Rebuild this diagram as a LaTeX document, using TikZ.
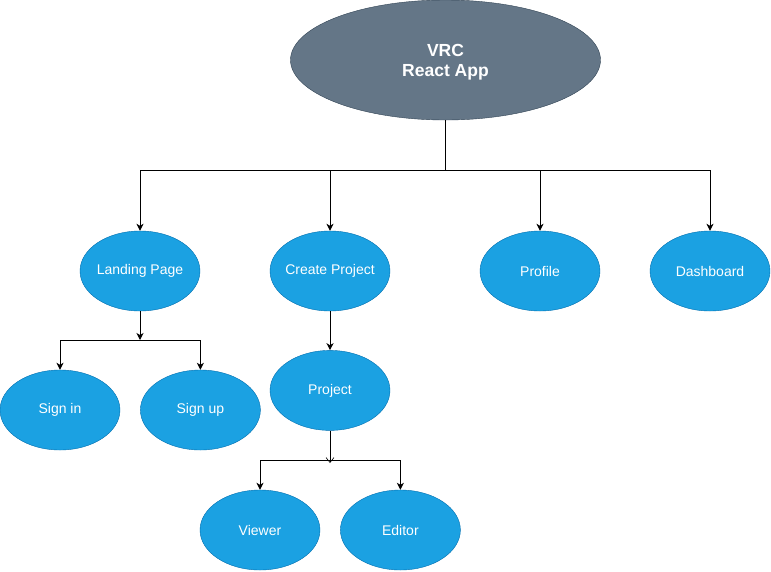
\documentclass[tikz,border=0pt]{standalone}
\usepackage{fontspec}
\setmainfont{Liberation Sans}
\usepackage{tikz}
\usetikzlibrary{positioning,shapes.geometric,arrows.meta}
\definecolor{appfill}{HTML}{647687}
\definecolor{appline}{HTML}{314354}
\definecolor{pagefill}{HTML}{1BA1E2}
\definecolor{pageline}{HTML}{006EAF}

\begin{document}
\begin{tikzpicture}[x=1pt,y=-1pt,
page/.style={draw=pageline,fill=pagefill,ellipse,minimum width=120pt,minimum height=80pt,inner xsep=-20pt,inner ysep=0pt,text=white,font=\fontsize{14}{17}\selectfont},
app/.style={draw=appline,fill=appfill,ellipse,minimum width=310pt,minimum height=120pt,inner sep=0pt,text=white,align=center,text depth=0pt,font=\fontsize{17.5}{20}\selectfont\bfseries},
link/.style={line width=1pt,-{Stealth[length=7pt,width=7pt,inset=2pt]}}]
\useasboundingbox (0,0) rectangle (771,571);
\node (app) [app] at (445.5,60) {VRC\\React App};
\node (landing) [page] at (140,271) {Landing Page};
\node (create) [page] at (330,271) {Create Project};
\node (profile) [page] at (540,271) {Profile};
\node (dash) [page] at (710,271) {Dashboard};
\node (signin) [page] at (60,410) {Sign in};
\node (signup) [page,right=20pt of signin] {Sign up};
\node (project) [page,below=39pt of create] {Project};
\node (viewer) [page] at (260,530) {Viewer};
\node (editor) [page,right=20pt of viewer] {Editor};
% junctions
\coordinate (appbus) at (445.5,170);
\coordinate (landbus) at (140,340);
\coordinate (projbus) at (330,460);
\draw [line width=1pt] (app) -- (appbus);
\foreach \to in {landing,create,profile,dash}
  \draw [link] (appbus) -| (\to);
\draw [link] (landing) -- (landbus);
\draw [link] (landbus) -| (signin);
\draw [link] (landbus) -| (signup);
\draw [link] (create) -- (project);
\draw [line width=1pt,-{Straight Barb[length=5pt,width=8pt,line width=0.6pt]}] (project) -- ([yshift=-3pt]projbus);
\draw [link] (projbus) -| (viewer);
\draw [link] (projbus) -| (editor);
\end{tikzpicture}
\end{document}
